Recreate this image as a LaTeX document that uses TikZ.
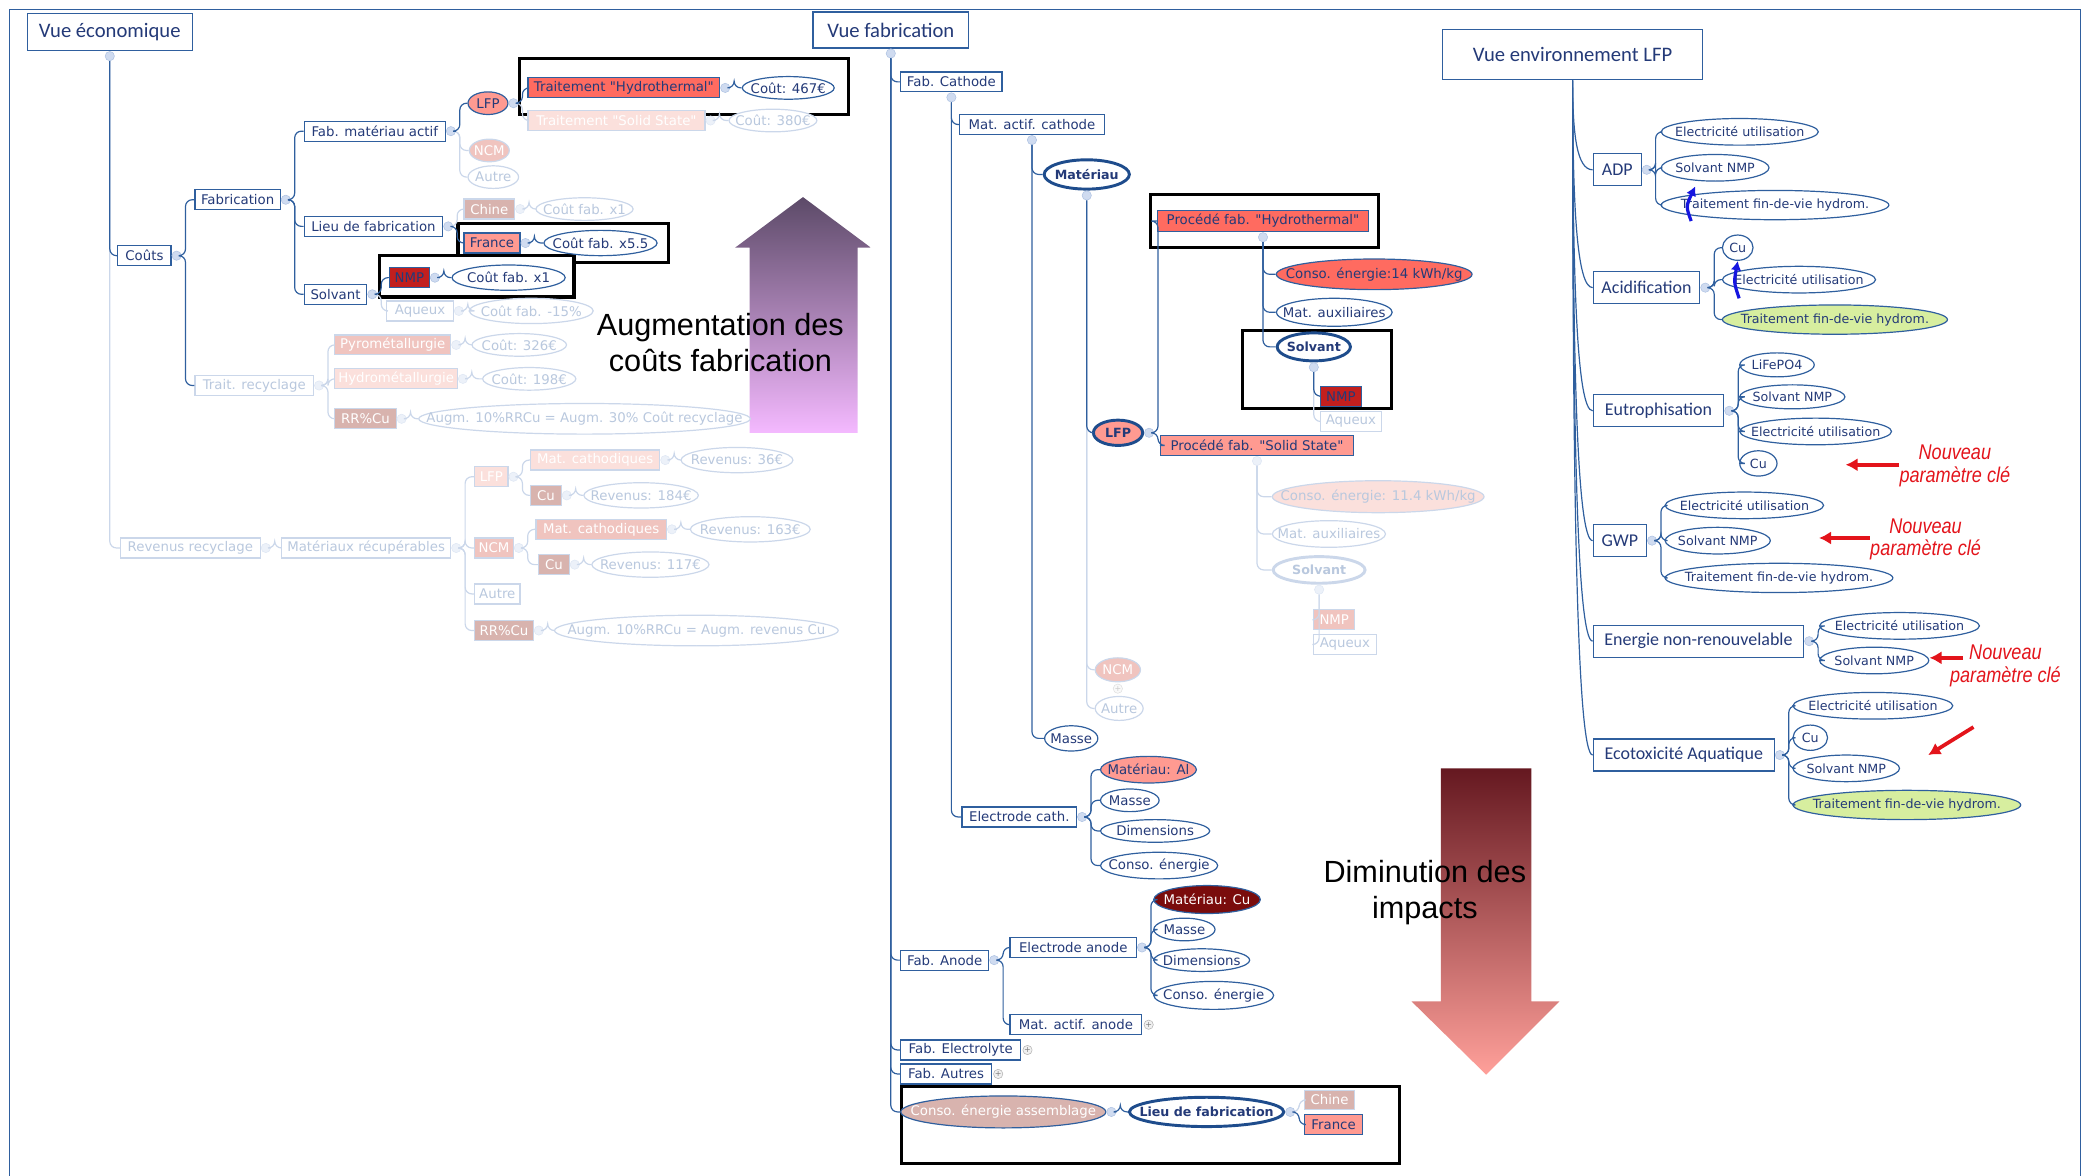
\documentclass[tikz,border=0pt]{standalone}
\usepackage{fontspec}
\usepackage{xcolor}
\usepackage{tikz}
\usetikzlibrary{shapes.geometric, positioning, arrows.meta}

\newfontfamily\nodefont{DejaVu Sans}
\newfontfamily\headfont{Carlito}
\newfontfamily\bigfont{Liberation Sans}
\newfontfamily\notefont[FakeStretch=0.85]{Liberation Sans}

\definecolor{mmblue}{HTML}{2F5F9E}
\definecolor{mmdark}{HTML}{1E4C8C}
\definecolor{mmtext}{HTML}{243A78}
\definecolor{fadeline}{HTML}{CBD7EA}
\definecolor{fadetext}{HTML}{B9C8DE}
\definecolor{knobfill}{HTML}{CFDBF0}
\definecolor{knobdraw}{HTML}{AFC3E3}
\definecolor{hotred}{HTML}{FF6B60}
\definecolor{salmon}{HTML}{FF9A91}
\definecolor{nmpred}{HTML}{C21F1E}
\definecolor{maroon}{HTML}{7A0C0C}
\definecolor{dusty}{HTML}{D8B3AE}
\definecolor{pinkA}{HTML}{F0C4BF}
\definecolor{pinkB}{HTML}{FBE0DC}
\definecolor{limey}{HTML}{D7EE9F}
\definecolor{notered}{HTML}{E3141B}
\definecolor{arrowblue}{HTML}{1616E0}
\definecolor{upTop}{HTML}{5C4A68}
\definecolor{upBot}{HTML}{F4B9FF}
\definecolor{dnTop}{HTML}{651820}
\definecolor{dnBot}{HTML}{FFA09A}

\tikzset{
    tbox/.style={rectangle, draw=mmblue, fill=white, text=mmtext, line width=0.9pt,
        font=\nodefont\fontsize{10}{12}\selectfont, anchor=west,
        minimum width=#1, minimum height=15pt, inner xsep=2pt, inner ysep=0pt},
    tbox/.default=10pt,
    toval/.style={ellipse, draw=mmblue, fill=white, text=mmtext, line width=0.9pt,
        font=\nodefont\fontsize{10}{12}\selectfont, anchor=west,
        minimum width=#1, minimum height=17pt, inner xsep=-40pt, inner ysep=-10pt},
    eoval/.style={toval=#1, minimum height=20pt, font=\nodefont\fontsize{9.5}{11}\selectfont},
    heavy/.style={line width=2.2pt, draw=mmdark, font=\nodefont\bfseries\fontsize{9.5}{11}\selectfont},
    faint/.style={draw=fadeline, text=fadetext},
    headbox/.style={rectangle, draw=mmblue, fill=white, text=mmtext, line width=0.9pt,
        font=\headfont\fontsize{15.5}{18}\selectfont, anchor=west},
    catbox/.style={rectangle, draw=mmblue, fill=white, text=mmtext, line width=0.9pt,
        font=\headfont\fontsize{13.5}{16}\selectfont, anchor=west,
        minimum width=#1, minimum height=24pt, inner xsep=2pt},
    knob/.style={circle, fill=knobfill, draw=knobdraw, line width=0.4pt, minimum size=7pt, inner sep=0pt},
    knobf/.style={knob, fill=knobfill!40, draw=knobdraw!40},
    knobp/.style={circle, fill=gray!12, draw=gray!60, line width=0.4pt, minimum size=7pt,
        inner sep=0pt, text=gray, font=\nodefont\fontsize{6}{6}\selectfont},
    knobpf/.style={knobp, draw=gray!25, text=gray!40, fill=gray!5},
    con/.style={draw=mmblue, line width=0.9pt, rounded corners=5pt},
    conf/.style={con, draw=fadeline},
    hilite/.style={draw=black, line width=2.4pt},
    cle/.style={text=notered, font=\notefont\itshape\fontsize{16}{17}\selectfont, align=center, inner sep=0pt},
    bigtext/.style={font=\bigfont\fontsize{23}{27}\selectfont, align=center, text=black},
    redarr/.style={draw=notered, line width=2.8pt, -{Latex[length=9pt,width=10pt]}},
    bluearr/.style={draw=arrowblue, line width=2.4pt, -{Latex[length=7pt,width=8pt]}}
}

% boutons de repli et liaisons
\newcommand{\knobR}[2][knob]{\node[#1, right=0pt of #2] (k#2) {};}
\newcommand{\knobB}[2][knob]{\node[#1, below=0pt of #2] (k#2) {};}
\newcommand{\hlk}[3][con]{\draw[#1] (k#2.east) -- ++(3,0) |- (#3.west);}
\newcommand{\vlk}[3][con]{\draw[#1] (k#2.south) |- (#3.west);}

\begin{document}
\begin{tikzpicture}[x=1pt, y=-1pt]
    \useasboundingbox (0,0) rectangle (1568,883);

    % Flèches de fond
    \shade[top color=upTop, bottom color=upBot] (563,325) -- (563,186) -- (552,186) -- (603,148)
        -- (654,186) -- (644,186) -- (644,325) -- cycle;
    \shade[top color=dnTop, bottom color=dnBot] (1082,577) -- (1150,577) -- (1150,752) -- (1171,752)
        -- (1116,807) -- (1060,752) -- (1082,752) -- cycle;

    % Cadre
    \draw[mmblue, line width=0.8pt] (7,883) -- (7,7) -- (1562,7) -- (1562,883);

    % Encadrés noirs
    \draw[hilite] (390,44) rectangle (637,86);
    \draw[hilite] (344,168) rectangle (502,197);
    \draw[hilite, fill=white] (285,192) rectangle (431,223);
    \draw[hilite] (864,146) rectangle (1035,186);
    \draw[hilite] (933,248) rectangle (1045,307);
    \draw[hilite] (677,816) rectangle (1051,874);

    % ===== Vue économique =====
    \node[headbox, minimum width=124pt, minimum height=28pt] (vueeco) at (20,24) {Vue économique};
    \knobB{vueeco}
    \node[tbox=40pt] (couts) at (88,192) {Coûts}; \knobR{couts}
    \node[tbox=64pt] (fabr) at (146,150) {Fabrication}; \knobR{fabr}
    \node[tbox=89pt, faint] (trec) at (146,289.5) {Trait. recyclage}; \knobR[knobf]{trec}
    \node[tbox=106pt] (fmat) at (228,98.5) {Fab. matériau actif}; \knobR{fmat}
    \node[tbox=104pt] (lieu) at (228,170) {Lieu de fabrication}; \knobR{lieu}
    \node[tbox=47pt] (solv) at (228,221) {Solvant}; \knobR{solv}
    \node[toval=30pt, fill=salmon] (lfp) at (351,77.5) {LFP}; \knobR{lfp}
    \node[toval=30pt, faint, fill=pinkA, text=white] (ncm) at (352,113) {NCM};
    \node[toval=38pt, faint] (autre) at (351,133) {Autre};
    \node[tbox=144pt, fill=hotred] (hydro) at (396,66) {Traitement "Hydrothermal"}; \knobR{hydro}
    \node[tbox=133pt, faint, fill=pinkB, text=white] (solid) at (396,90.5) {Traitement "Solid State"}; \knobR[knobf]{solid}
    \node[toval=69pt] (c467) at (557,66) {Coût: 467€};
    \node[toval=66pt, faint] (c380) at (547,90.5) {Coût: 380€};
    \node[tbox=38pt, faint, fill=dusty, text=white] (chine) at (348,157) {Chine}; \knobR[knobf]{chine}
    \node[tbox=42pt, fill=salmon] (france) at (348,182.5) {France}; \knobR{france}
    \node[toval=73pt, faint] (cx1a) at (402,157) {Coût fab. x1};
    \node[toval=85pt, minimum height=19pt] (cx55) at (408,182.5) {Coût fab. x5.5};
    \node[tbox=30pt, fill=nmpred] (nmp) at (292,208.5) {NMP}; \knobR{nmp}
    \node[tbox=50pt, faint] (aqx) at (290,233.5) {Aqueux}; \knobR[knobf]{aqx}
    \node[toval=85pt, minimum height=19pt] (cx1b) at (339,208.5) {Coût fab. x1};
    \node[toval=93pt, minimum height=19pt, faint] (c15) at (352,233.5) {Coût fab. -15\%};
    \node[tbox=87pt, faint, fill=pinkA, text=white] (pyro) at (251,259) {Pyrométallurgie}; \knobR[knobf]{pyro}
    \node[tbox=92pt, faint, fill=pinkB, text=white] (hydm) at (251,284.5) {Hydrométallurgie}; \knobR[knobf]{hydm}
    \node[tbox=46pt, faint, fill=dusty, text=white] (rrcu) at (251,314.5) {RR\%Cu}; \knobR[knobf]{rrcu}
    \node[toval=71pt, faint] (c326) at (354,259) {Coût: 326€};
    \node[toval=70pt, faint] (c198) at (362,284.5) {Coût: 198€};
    \node[toval=249pt, minimum height=23pt, faint] (augm1) at (314,314.5) {Augm. 10\%RRCu = Augm. 30\% Coût recyclage};
    \node[tbox=105pt, faint] (revrec) at (90,411.5) {Revenus recyclage}; \knobR[knobf]{revrec}
    \node[tbox=127pt, faint] (matrec) at (211,411.5) {Matériaux récupérables}; \knobR[knobf]{matrec}
    \node[tbox=25pt, faint, fill=pinkB, text=white] (rlfp) at (356,358) {LFP}; \knobR[knobf]{rlfp}
    \node[tbox=29pt, faint, fill=pinkA, text=white] (rncm) at (356,411.5) {NCM}; \knobR[knobf]{rncm}
    \node[tbox=34pt, faint] (rautre) at (356,446) {Autre};
    \node[tbox=44pt, faint, fill=dusty, text=white] (rrrcu) at (356,473.5) {RR\%Cu}; \knobR[knobf]{rrrcu}
    \node[tbox=97pt, faint, fill=pinkB, text=white] (mcl) at (398,345.5) {Mat. cathodiques}; \knobR[knobf]{mcl}
    \node[tbox=23pt, faint, fill=dusty, text=white] (cul) at (398,372) {Cu}; \knobR[knobf]{cul}
    \node[tbox=98pt, faint, fill=pinkA, text=white] (mcn) at (402,397.5) {Mat. cathodiques}; \knobR[knobf]{mcn}
    \node[tbox=23pt, faint, fill=dusty, text=white] (cun) at (404,424) {Cu}; \knobR[knobf]{cun}
    \node[toval=84pt, faint, minimum height=19pt] (r36) at (511,345.5) {Revenus: 36€};
    \node[toval=86pt, faint, minimum height=19pt] (r184) at (438,372) {Revenus: 184€};
    \node[toval=90pt, faint, minimum height=19pt] (r163) at (518,397.5) {Revenus: 163€};
    \node[toval=88pt, faint, minimum height=19pt] (r117) at (444,424) {Revenus: 117€};
    \node[toval=213pt, minimum height=23pt, faint] (augm2) at (416,473.5) {Augm. 10\%RRCu = Augm. revenus Cu};

    % liaisons
    \vlk[conf]{vueeco}{revrec}
    \vlk{vueeco}{couts}
    \hlk{couts}{fabr} \hlk{couts}{trec}
    \hlk{fabr}{fmat} \hlk{fabr}{lieu} \hlk{fabr}{solv}
    \hlk[conf]{fmat}{ncm} \hlk[conf]{fmat}{autre} \hlk{fmat}{lfp}
    \hlk[conf]{lfp}{solid} \hlk{lfp}{hydro}
    \hlk{hydro}{c467} \hlk[conf]{solid}{c380}
    \hlk[conf]{lieu}{chine} \hlk{lieu}{france}
    \hlk[conf]{chine}{cx1a} \hlk{france}{cx55}
    \hlk[conf]{solv}{aqx} \hlk{solv}{nmp}
    \hlk{nmp}{cx1b} \hlk[conf]{aqx}{c15}
    \hlk[conf]{trec}{pyro} \hlk[conf]{trec}{hydm} \hlk[conf]{trec}{rrcu}
    \hlk[conf]{pyro}{c326} \hlk[conf]{hydm}{c198} \hlk[conf]{rrcu}{augm1}
    \hlk[conf]{revrec}{matrec}
    \hlk[conf]{matrec}{rlfp} \hlk[conf]{matrec}{rncm} \hlk[conf]{matrec}{rautre} \hlk[conf]{matrec}{rrrcu}
    \hlk[conf]{rlfp}{mcl} \hlk[conf]{rlfp}{cul} \hlk[conf]{rncm}{mcn} \hlk[conf]{rncm}{cun}
    \hlk[conf]{mcl}{r36} \hlk[conf]{cul}{r184} \hlk[conf]{mcn}{r163} \hlk[conf]{cun}{r117}
    \hlk[conf]{rrrcu}{augm2}

    % ===== Vue fabrication =====
    \node[headbox, minimum width=117pt, minimum height=27pt] (vuefab) at (610,22.5) {Vue fabrication};
    \knobB{vuefab}
    \node[tbox=76pt] (fcat) at (676,61.5) {Fab. Cathode}; \knobB{fcat}
    \node[tbox=109pt] (macat) at (720,93.5) {Mat. actif. cathode}; \knobB{macat}
    \node[toval=64pt, heavy, minimum height=22pt] (mater) at (783,131) {Matériau}; \knobB{mater}
    \node[toval=37pt, heavy, fill=salmon, minimum height=19pt] (flfp) at (820,325) {LFP}; \knobR{flfp}
    \node[tbox=158pt, fill=hotred, minimum height=16pt] (phyd) at (869,166) {Procédé fab. "Hydrothermal"}; \knobB{phyd}
    \node[tbox=145pt, fill=salmon] (psol) at (871,334.5) {Procédé fab. "Solid State"}; \knobB[knobf]{psol}
    \node[toval=147pt, fill=hotred, minimum height=23pt] (ce14) at (958,206) {Conso. énergie:14 kWh/kg};
    \node[toval=87pt, minimum height=21pt] (maux1) at (958,234.5) {Mat. auxiliaires};
    \node[toval=55pt, heavy, minimum height=21pt] (solv1) at (958,260.5) {Solvant}; \knobB{solv1}
    \node[tbox=31pt, fill=nmpred] (nmp1) at (991,297.5) {NMP};
    \node[tbox=46pt, faint] (aqx1) at (991,316.5) {Aqueux};
    \node[toval=159pt, faint, fill=pinkB, minimum height=24pt] (ce11) at (955,373) {Conso. énergie: 11.4 kWh/kg};
    \node[toval=85pt, faint, minimum height=20pt] (maux2) at (955,401) {Mat. auxiliaires};
    \node[toval=69pt, heavy, faint, minimum height=20pt] (solv2) at (955,428) {Solvant}; \knobB[knobf]{solv2}
    \node[tbox=31pt, faint, fill=pinkA, text=white] (nmp2) at (986,465.5) {NMP};
    \node[tbox=47pt, faint] (aqx2) at (986,484) {Aqueux};
    \node[toval=34pt, faint, fill=pinkA, text=white, minimum height=18pt] (fncm) at (822,503) {NCM};
    \node[knobpf, below=1pt of fncm] (kfncm) {+};
    \node[toval=36pt, faint, minimum height=18pt] (fautre) at (822,532) {Autre};
    \node[toval=40pt, minimum height=19pt] (masse1) at (784,554.5) {Masse};
    \node[tbox=86pt] (ecath) at (722,613.5) {Electrode cath.}; \knobR{ecath}
    \node[toval=72pt, fill=salmon, minimum height=20pt] (matal) at (826,578) {Matériau: Al};
    \node[toval=44pt] (masse2) at (826,601) {Masse};
    \node[toval=82pt] (dim1) at (826,624) {Dimensions};
    \node[toval=88pt, minimum height=20pt] (cons1) at (826,650) {Conso. énergie};
    \node[tbox=66pt] (fano) at (676,721) {Fab. Anode}; \knobR{fano}
    \node[tbox=95pt] (eano) at (758,711.5) {Electrode anode}; \knobR{eano}
    \node[toval=80pt, fill=maroon, text=white, minimum height=21pt] (matcu) at (866,675.5) {Matériau: Cu};
    \node[toval=46pt] (masse3) at (866,698) {Masse};
    \node[toval=72pt] (dim2) at (866,721) {Dimensions};
    \node[toval=90pt, minimum height=21pt] (cons2) at (866,747.5) {Conso. énergie};
    \node[tbox=99pt] (maano) at (758,769.5) {Mat. actif. anode};
    \node[knobp, right=1pt of maano] (kmaano) {+};
    \node[tbox=90pt] (felec) at (676,788.5) {Fab. Electrolyte};
    \node[knobp, right=1pt of felec] (kfelec) {+};
    \node[tbox=68pt] (faut) at (676,806.5) {Fab. Autres};
    \node[knobp, right=1pt of faut] (kfaut) {+};
    \node[toval=154pt, fill=dusty, text=white, minimum height=24pt] (casm) at (676,835) {Conso. énergie assemblage}; \knobR{casm}
    \node[toval=116pt, heavy, minimum height=22pt] (lieu2) at (847,835) {Lieu de fabrication}; \knobR{lieu2}
    \node[tbox=38pt, faint, fill=dusty, text=white, minimum height=14pt] (chine2) at (979,826) {Chine};
    \node[tbox=44pt, fill=salmon] (france2) at (979,844.5) {France};

    % liaisons
    \vlk{vuefab}{fcat} \vlk{vuefab}{fano} \vlk{vuefab}{felec} \vlk{vuefab}{faut} \vlk{vuefab}{casm}
    \vlk{fcat}{macat} \vlk{fcat}{ecath}
    \vlk{macat}{mater} \vlk{macat}{masse1}
    \vlk[conf]{mater}{fautre} \vlk[conf]{mater}{fncm} \vlk{mater}{flfp}
    \hlk{flfp}{phyd} \hlk{flfp}{psol}
    \vlk{phyd}{ce14} \vlk{phyd}{maux1} \vlk{phyd}{solv1}
    \vlk[conf]{solv1}{aqx1} \vlk{solv1}{nmp1}
    \vlk[conf]{psol}{ce11} \vlk[conf]{psol}{maux2} \vlk[conf]{psol}{solv2}
    \vlk[conf]{solv2}{nmp2} \vlk[conf]{solv2}{aqx2}
    \hlk{ecath}{matal} \hlk{ecath}{masse2} \hlk{ecath}{dim1} \hlk{ecath}{cons1}
    \hlk{fano}{eano} \hlk{fano}{maano}
    \hlk{eano}{matcu} \hlk{eano}{masse3} \hlk{eano}{dim2} \hlk{eano}{cons2}
    \hlk{casm}{lieu2}
    \hlk[conf]{lieu2}{chine2} \hlk{lieu2}{france2}

    % ===== Vue environnement LFP =====
    \node[headbox, minimum width=195pt, minimum height=38pt] (venv) at (1083,41) {Vue environnement LFP};
    \node[catbox=36pt] (adp) at (1196,127.5) {ADP}; \knobR{adp}
    \node[catbox=80pt] (acid) at (1196,216) {Acidification}; \knobR{acid}
    \node[catbox=98pt] (eutro) at (1196,308.5) {Eutrophisation}; \knobR{eutro}
    \node[catbox=40pt] (gwp) at (1196,406) {GWP}; \knobR{gwp}
    \node[catbox=158pt] (enr) at (1196,481.5) {Energie non-renouvelable}; \knobR{enr}
    \node[catbox=136pt] (eco) at (1196,567) {Ecotoxicité Aquatique}; \knobR{eco}

    \node[eoval=118pt] (adp1) at (1247,99) {Electricité utilisation};
    \node[eoval=81pt] (adp2) at (1247,126) {Solvant NMP};
    \node[eoval=171pt, minimum height=22pt] (adp3) at (1247,154) {Traitement fin-de-vie hydrom.};
    \node[eoval=23pt, minimum height=19pt] (acid1) at (1293,186) {Cu};
    \node[eoval=115pt] (acid2) at (1293,210) {Electricité utilisation};
    \node[eoval=169pt, fill=limey, minimum height=22pt] (acid3) at (1293,240) {Traitement fin-de-vie hydrom.};
    \node[eoval=56pt, minimum height=18pt] (eut1) at (1306,274) {LiFePO4};
    \node[eoval=79pt, minimum height=18pt] (eut2) at (1306,298) {Solvant NMP};
    \node[eoval=114pt] (eut3) at (1306,324) {Electricité utilisation};
    \node[eoval=28pt, minimum height=19pt] (eut4) at (1306,348) {Cu};
    \node[eoval=119pt] (gwp1) at (1250,379.5) {Electricité utilisation};
    \node[eoval=79pt] (gwp2) at (1250,406) {Solvant NMP};
    \node[eoval=171pt, minimum height=22pt] (gwp3) at (1250,434) {Traitement fin-de-vie hydrom.};
    \node[eoval=120pt] (enr1) at (1366,470) {Electricité utilisation};
    \node[eoval=82pt] (enr2) at (1366,496) {Solvant NMP};
    \node[eoval=120pt] (eco1) at (1346,530) {Electricité utilisation};
    \node[eoval=26pt, minimum height=19pt] (eco2) at (1346,554) {Cu};
    \node[eoval=80pt] (eco3) at (1346,577) {Solvant NMP};
    \node[eoval=171pt, fill=limey, minimum height=22pt] (eco4) at (1346,604.5) {Traitement fin-de-vie hydrom.};

    % liaisons
    \foreach \c/\y in {adp/127.5, acid/216, eutro/308.5, gwp/406, enr/481.5, eco/567}
        \draw[con, sharp corners] (venv.south) .. controls (1181,{60+0.6*(\y-60)}) and (1184,\y) .. (\c.west);
    \hlk{adp}{adp1} \hlk{adp}{adp2} \hlk{adp}{adp3}
    \hlk{acid}{acid1} \hlk{acid}{acid2} \hlk{acid}{acid3}
    \hlk{eutro}{eut1} \hlk{eutro}{eut2} \hlk{eutro}{eut3} \hlk{eutro}{eut4}
    \hlk{gwp}{gwp1} \hlk{gwp}{gwp2} \hlk{gwp}{gwp3}
    \hlk{enr}{enr1} \hlk{enr}{enr2}
    \hlk{eco}{eco1} \hlk{eco}{eco2} \hlk{eco}{eco3} \hlk{eco}{eco4}

    % Flèches bleues
    \coordinate (bl1a) at (1270,166);
    \coordinate (bl1b) at (1273,140);
    \draw[bluearr] (bl1a) .. controls (1266,155) .. (bl1b);
    \coordinate (bl2a) at (1306,224);
    \coordinate (bl2b) at (1305,196);
    \draw[bluearr] (bl2a) .. controls (1302,212) .. (bl2b);

    % Nouveaux paramètres
    \node[cle] (nv1) at (1468,350) {Nouveau\\paramètre clé};
    \coordinate (r1) at (1386,349);
    \draw[redarr] (nv1.west |- r1) -- (r1);
    \node[cle] (nv2) at (1446,405) {Nouveau\\paramètre clé};
    \coordinate (r2) at (1366,404);
    \draw[redarr] (nv2.west |- r2) -- (r2);
    \node[cle] (nv3) at (1506,500) {Nouveau\\paramètre clé};
    \coordinate (r3a) at (1474,494);
    \coordinate (r3) at (1449,494);
    \draw[redarr] (r3a) -- (r3);
    \coordinate (r4a) at (1482,546);
    \coordinate (r4) at (1448,567);
    \draw[redarr] (r4a) -- (r4);

    % Textes des grandes flèches
    \node[bigtext] (augtxt) at (541,257) {Augmentation des\\coûts fabrication};
    \node[bigtext] (dimtxt) at (1070,670) {Diminution des\\impacts};
\end{tikzpicture}
\end{document}
